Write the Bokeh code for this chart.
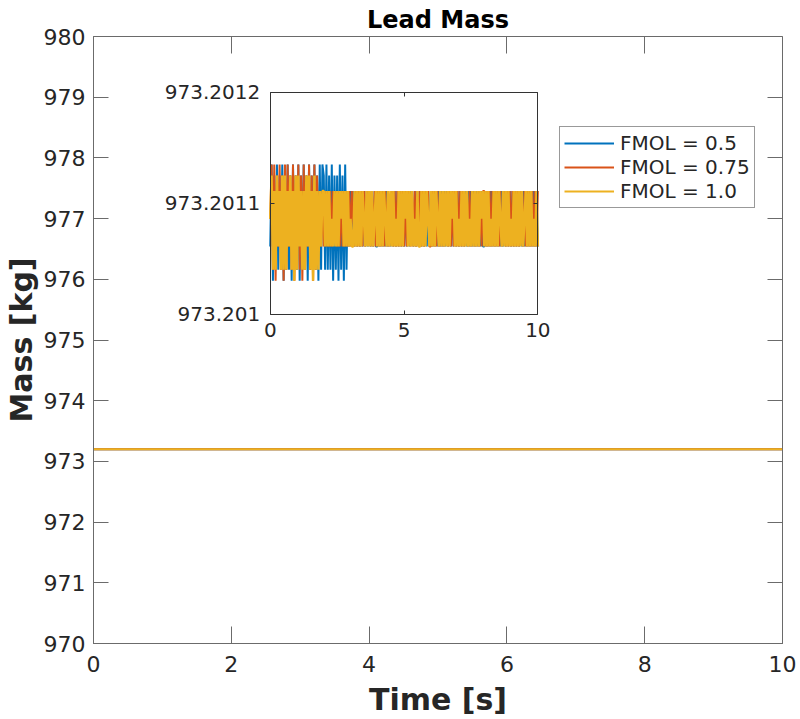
from bokeh.plotting import figure
from bokeh.models import (Range1d, LinearAxis, FixedTicker, CustomJSTickFormatter,
                          Legend, LegendItem)
from bokeh.embed import file_html
from bokeh.resources import INLINE

# sampling of the three runs [s]
time_step = 0.05
n_samples = 201
time = [round(i * time_step, 2) for i in range(n_samples)]

# discrete mass levels the runs jump between [kg]
mass_levels = [973.201030, 973.201040, 973.201061, 973.201086,
               973.201111, 973.201125, 973.201135]

# level index for every sample, one chunk per 2 s
fmol_05_codes = ("2605161526051615062516051625061526150616"
                 "5161516051506150614242424242424242424242"
                 "2424242423242424242424242432424242424242"
                 "4242424242424242424242424242424242424242"
                 "2424242424242424242424242424242424242424"
                 "2")
fmol_075_codes = ("3616052615061625160526150615261506152424"
                  "2424242434242424242424324242424243424242"
                  "4242424242342424242424243242424242424342"
                  "2424242424243242424242424234242424242424"
                  "4242424242424234242424242424324242424242"
                  "4")
fmol_10_codes = ("3514152415151425140515241415251405141424"
                 "4242423242424342424232242424243242424234"
                 "2424243242424232424243424242324224242432"
                 "4242432424242424342423242424232424242434"
                 "2424232424243242424232424242423424242324"
                 "2")

mass_05 = [mass_levels[int(c)] for c in fmol_05_codes]
mass_075 = [mass_levels[int(c)] for c in fmol_075_codes]
mass_10 = [mass_levels[int(c)] for c in fmol_10_codes]

labels = ["FMOL = 0.5", "FMOL = 0.75", "FMOL = 1.0"]
colors = ["#0072BD", "#D95319", "#EDB120"]
inset_widths = [2, 2, 2.5]
series = [mass_05, mass_075, mass_10]

x_lim = (0, 10)
y_lim = (970, 980)
main_x_ticks = [0, 2, 4, 6, 8, 10]
main_y_ticks = list(range(970, 981))
inset_x_lim = (0, 10)
inset_y_lim = (973.201, 973.2012)
inset_x_ticks = [0, 5, 10]
inset_y_ticks = [973.201, 973.2011, 973.2012]

FONT = "DejaVu Sans"
AXIS_COLOR = "#6b6b6b"
INSET_COLOR = "#333333"
TEXT_COLOR = "#262626"

# pixel geometry of the main frame and of the inset frame
frame_l, frame_r, frame_t, frame_b = 92.0, 782.0, 35.0, 643.0
inset_l, inset_r, inset_t, inset_b = 269.0, 537.0, 91.0, 313.0

p = figure(width=800, height=719, x_range=x_lim, y_range=y_lim,
           output_backend="svg", toolbar_location=None, title="Lead Mass",
           min_border_left=int(frame_l), min_border_right=int(800 - frame_r),
           min_border_top=int(frame_t), min_border_bottom=int(719 - frame_b))
p.xgrid.visible = False
p.ygrid.visible = False
p.outline_line_color = AXIS_COLOR
p.outline_line_width = 1

p.title.align = "center"
p.title.text_font = FONT
p.title.text_font_size = "24px"
p.title.text_font_style = "bold"
p.title.text_color = "black"
p.title.standoff = 6

blank = CustomJSTickFormatter(code="return ''")


def style_axis(ax, tick_len, font_size, color, standoff):
    ax.major_tick_in = tick_len
    ax.major_tick_out = 0
    ax.minor_tick_line_color = None
    ax.major_tick_line_color = color
    ax.axis_line_color = color
    ax.major_label_text_font = FONT
    ax.major_label_text_font_size = font_size
    ax.major_label_text_color = TEXT_COLOR
    ax.major_label_standoff = standoff


xa = p.xaxis[0]
ya = p.yaxis[0]
xa.ticker = FixedTicker(ticks=main_x_ticks)
ya.ticker = FixedTicker(ticks=main_y_ticks)
style_axis(xa, 17, "22px", AXIS_COLOR, 12)
style_axis(ya, 15, "22px", AXIS_COLOR, 8)
xa.axis_label = "Time [s]"
ya.axis_label = "Mass [kg]"
xa.axis_label_standoff = 7
ya.axis_label_standoff = 2
for ax in (xa, ya):
    ax.axis_label_text_font = FONT
    ax.axis_label_text_font_size = "30px"
    ax.axis_label_text_font_style = "bold"
    ax.axis_label_text_color = TEXT_COLOR


def add_axis(side, loc, ticks, tick_len, color, bounds="auto", formatter=blank,
             font_size="1px", standoff=0, inset=False):
    kw = dict(x_range_name="ix", y_range_name="iy") if inset else {}
    ax = LinearAxis(fixed_location=loc, bounds=bounds, formatter=formatter,
                    ticker=FixedTicker(ticks=ticks), **kw)
    style_axis(ax, tick_len, font_size, color, standoff)
    p.add_layout(ax, side)
    return ax


# ticks on the top and right edges of the main box
add_axis("above", y_lim[1], main_x_ticks, 17, AXIS_COLOR)
add_axis("right", x_lim[1], main_y_ticks, 15, AXIS_COLOR)

# inset ranges chosen so that the inset box lands where it sits in the figure
ix_unit = (inset_x_lim[1] - inset_x_lim[0]) / (inset_r - inset_l)
iy_unit = (inset_y_lim[1] - inset_y_lim[0]) / (inset_b - inset_t)
p.extra_x_ranges = {"ix": Range1d(inset_x_lim[0] - (inset_l - frame_l) * ix_unit,
                                  inset_x_lim[1] + (frame_r - inset_r) * ix_unit)}
p.extra_y_ranges = {"iy": Range1d(inset_y_lim[0] - (frame_b - inset_b) * iy_unit,
                                  inset_y_lim[1] + (inset_t - frame_t) * iy_unit)}

inset_fmt = CustomJSTickFormatter(code="return String(parseFloat(tick.toFixed(4)))")
add_axis("below", inset_y_lim[0], inset_x_ticks, 4, INSET_COLOR, bounds=inset_x_lim,
         formatter=inset_fmt, font_size="20px", standoff=9, inset=True)
add_axis("left", inset_x_lim[0], inset_y_ticks, 4, INSET_COLOR, bounds=inset_y_lim,
         formatter=inset_fmt, font_size="20px", standoff=10, inset=True)
add_axis("above", inset_y_lim[1], inset_x_ticks, 4, INSET_COLOR, bounds=inset_x_lim,
         inset=True)
add_axis("right", inset_x_lim[1], inset_y_ticks, 4, INSET_COLOR, bounds=inset_y_lim,
         inset=True)

items = []
for lab, col, w, ys in zip(labels, colors, inset_widths, series):
    r = p.line(time, ys, line_color=col, line_width=2)
    p.line(time, ys, line_color=col, line_width=w,
           x_range_name="ix", y_range_name="iy")
    items.append(LegendItem(label=lab, renderers=[r]))

legend = Legend(items=items, location=(466, 435))
legend.label_text_font = FONT
legend.label_text_font_size = "20px"
legend.label_text_color = TEXT_COLOR
legend.glyph_width = 50
legend.glyph_height = 24
legend.label_height = 24
legend.label_standoff = 6
legend.spacing = 0
legend.padding = 4
legend.margin = 0
legend.border_line_color = INSET_COLOR
legend.border_line_width = 1
legend.background_fill_color = "white"
legend.background_fill_alpha = 1
p.add_layout(legend)

open("out.html", "w").write(file_html(p, INLINE))
